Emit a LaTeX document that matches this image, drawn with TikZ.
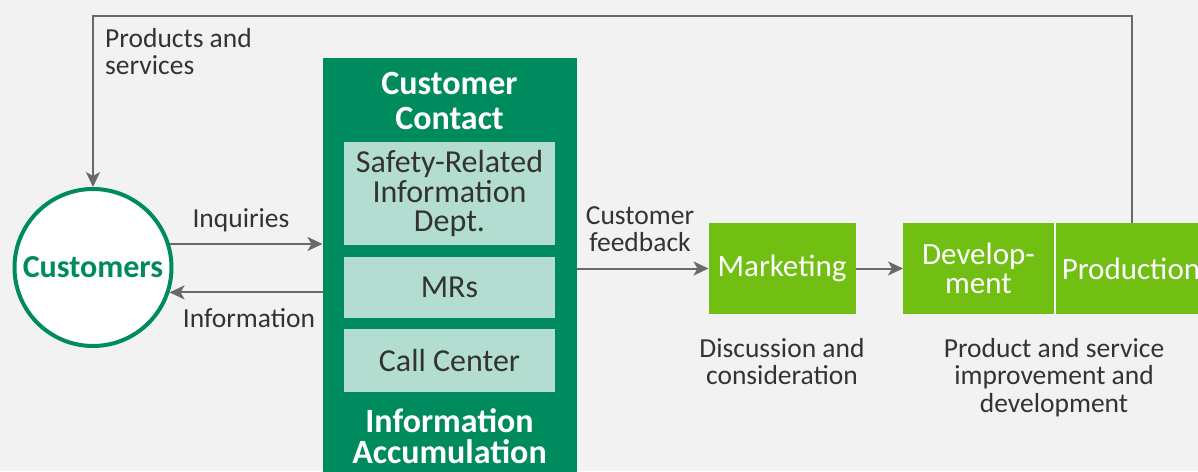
\documentclass[tikz,border=0pt]{standalone}
\usepackage{fontspec}
\setmainfont{Carlito}
\usetikzlibrary{positioning}
\usetikzlibrary{arrows.meta}
\definecolor{dkgreen}{RGB}{0,139,94}
\definecolor{lime}{RGB}{112,191,18}
\definecolor{mint}{RGB}{178,221,208}
\definecolor{bggray}{RGB}{242,242,242}
\definecolor{txtgray}{RGB}{51,51,51}
\definecolor{linegray}{RGB}{105,105,105}
\tikzstyle{custcircle} = [circle, 
draw=dkgreen, 
line width=4pt, 
fill=white, 
minimum size=157, 
inner sep=0, 
text=dkgreen, 
font=\bfseries\fontsize{32}{32}\selectfont]
\tikzstyle{contact} = [rectangle, 
fill=dkgreen, 
inner sep=0, outer sep=0, 
minimum width=254, 
minimum height=440]
\tikzstyle{contacttext} = [inner sep=0, 
text=white, 
align=center, 
font=\bfseries\fontsize{34}{35}\selectfont]
\tikzstyle{dept} = [rectangle, 
fill=mint, 
inner sep=0, outer sep=0, 
minimum width=211, 
text=txtgray, 
align=center, 
font=\fontsize{32}{29.5}\selectfont]
\tikzstyle{unitbox} = [rectangle, 
fill=lime, 
inner sep=0, outer sep=0, 
minimum height=91, 
text=white, 
align=center, 
font=\fontsize{31}{29}\selectfont]
\tikzstyle{lbl} = [inner sep=0, 
text=txtgray, 
align=center, 
font=\fontsize{27.5}{27.5}\selectfont]
\tikzstyle{arrow} = [line width=2pt, draw=linegray, -{Stealth[length=15pt,width=14pt,inset=4pt]}]
\begin{document}
\begin{tikzpicture}[x=1pt, y=-1pt]
            \clip (0,0) rectangle (1198,471);
            \fill [bggray] (0,0) rectangle (1198,471);

            \node (cust) [custcircle] at (93,267.5) {Customers};
            \node (contact) [contact, anchor=north] at (449.5,58) {};
            \node (ctitle) [contacttext, anchor=north] at (449.5,72) {Customer\\Contact};
            \node (srid) [dept, minimum height=103, anchor=north] at (449.5,142) {Safety-Related\\Information\\Dept.};
            \node (mrs) [dept, minimum height=61, below=12pt of srid] {MRs};
            \node (call) [dept, minimum height=63, below=11pt of mrs] {Call Center};
            \node (cfoot) [contacttext, anchor=north, font=\bfseries\fontsize{34}{31}\selectfont] at (449.5,408) {Information\\Accumulation};
            \node (mkt) [unitbox, minimum width=147] at (782,268.5) {Marketing};
            \node (dev) [unitbox, minimum width=151, right=47.5pt of mkt] {Develop-\\ment};
            \node (prod) [unitbox, minimum width=150, right=2pt of dev] {Production};

            \node (lprod) [lbl, align=left, anchor=north west] at (105,28) {Products and\\services};
            \node (linq) [lbl, anchor=base] at (241,227) {Inquiries};
            \node (linfo) [lbl, anchor=base] at (249,327) {Information};
            \node (lfeed) [lbl, anchor=north] at (640,206) {Customer\\feedback};
            \node (ldisc) [lbl, anchor=north] at (782,338) {Discussion and\\consideration};
            \node (limpr) [lbl, anchor=north] at (1054,338) {Product and service\\improvement and\\development};
            \coordinate (loop) at (1132,16);

            \draw [arrow] (cust.17) -- (cust.17 -| contact.west);
            \draw [arrow] (contact.west |- cust.-18) -- (cust.-18);
            \draw [arrow] (contact.east |- mkt.west) -- (mkt.west);
            \draw [arrow] (mkt) -- (dev);
            \draw [arrow] (loop |- prod.north) -- (loop) -| (cust.north);
        \end{tikzpicture}
\end{document}
